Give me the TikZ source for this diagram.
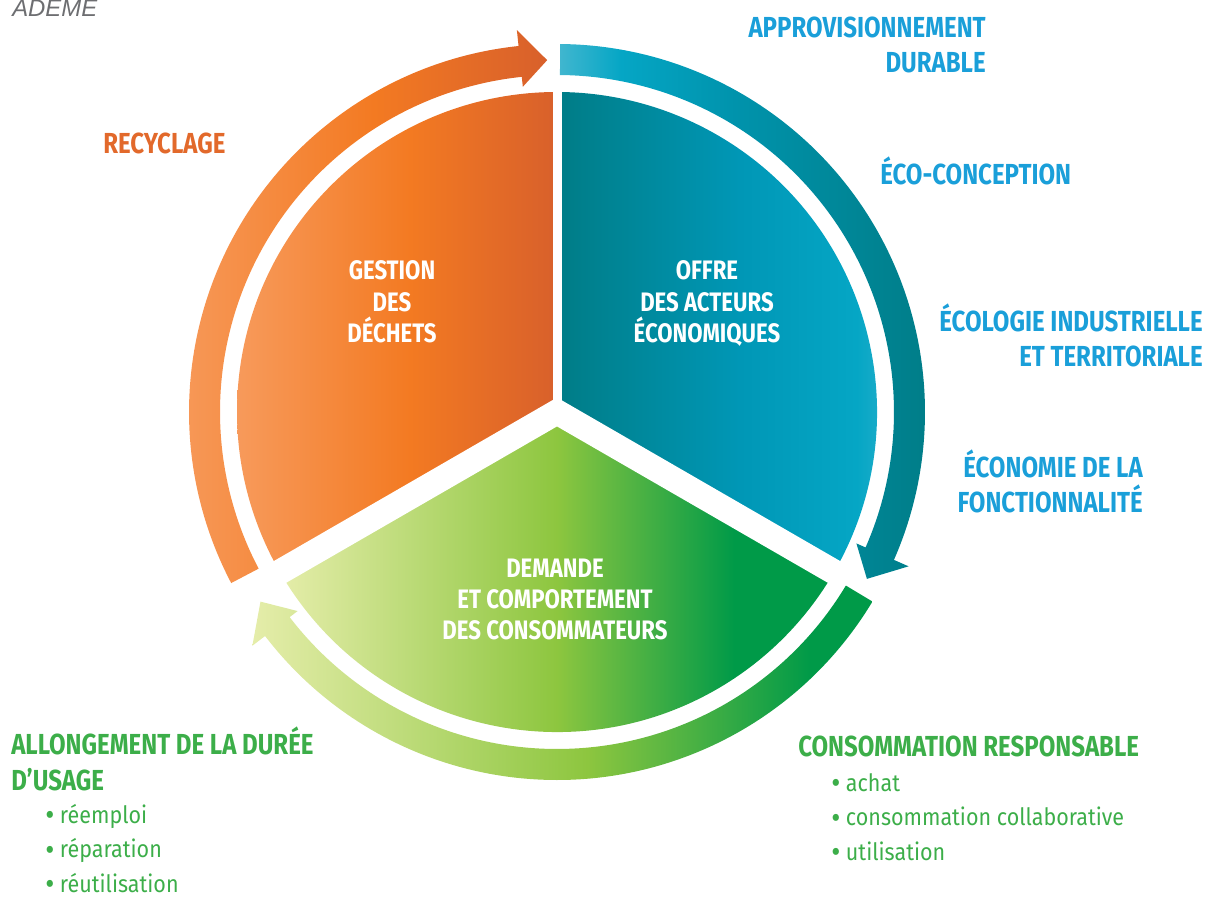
\documentclass[tikz,border=0pt]{standalone}
\usepackage{fontspec}
\setmainfont{Fira Sans}
\newfontfamily\condfont{Fira Sans}[FakeStretch=0.83]
\newfontfamily\listfont{Fira Sans}[FakeStretch=0.9]
\newfontfamily\logofont{Liberation Sans}
\usepackage{tikz}
\usetikzlibrary{calc}

\definecolor{orangeA}{HTML}{F79A5B}
\definecolor{orangeB}{HTML}{F37A22}
\definecolor{orangeC}{HTML}{D8602B}
\definecolor{tealA}{HTML}{007C86}
\definecolor{tealB}{HTML}{0097B6}
\definecolor{tealC}{HTML}{05A6C5}
\definecolor{tealD}{HTML}{40B6CF}
\definecolor{tealE}{HTML}{0093AC}
\definecolor{greenA}{HTML}{E5EDAA}
\definecolor{greenB}{HTML}{8DC63F}
\definecolor{greenC}{HTML}{009A48}
\definecolor{orangetext}{HTML}{E2692B}
\definecolor{bluetext}{HTML}{1A9FD9}
\definecolor{greentext}{HTML}{3CAE49}
\definecolor{logogray}{HTML}{6D6E71}

\pgfdeclarehorizontalshading{orangeshade}{100bp}{color(0bp)=(orangeA); color(25bp)=(orangeA); color(52bp)=(orangeB); color(75bp)=(orangeC); color(100bp)=(orangeC)}
\pgfdeclarehorizontalshading{offreshade}{100bp}{color(0bp)=(tealA); color(25bp)=(tealA); color(50bp)=(tealB); color(66bp)=(tealC); color(75bp)=(tealD); color(100bp)=(tealD)}
\pgfdeclarehorizontalshading{offrearcshade}{100bp}{color(0bp)=(tealD); color(25bp)=(tealD); color(33bp)=(tealC); color(48bp)=(tealE); color(75bp)=(tealA); color(100bp)=(tealA)}
\pgfdeclarehorizontalshading{demandeshade}{100bp}{color(0bp)=(greenA); color(25bp)=(greenA); color(50bp)=(greenB); color(66bp)=(greenC); color(75bp)=(greenC); color(100bp)=(greenC)}
\pgfdeclarehorizontalshading{demandearcshade}{100bp}{color(0bp)=(greenA); color(25bp)=(greenA); color(52bp)=(greenB); color(70bp)=(greenC); color(75bp)=(greenC); color(100bp)=(greenC)}

\newcommand\listdot{\raisebox{-1.8pt}[0pt][0pt]{\scalebox{1.3}{•}}\hspace{4pt}}

\tikzset{
  sector label/.style={text=white, font=\condfont\bfseries\fontsize{19}{22.4}\selectfont, align=center, inner sep=0pt},
  ring label/.style={font=\condfont\bfseries\fontsize{20.6}{24.9}\selectfont, inner sep=0pt},
  list label/.style={text=greentext, font=\listfont\fontsize{17}{24.5}\selectfont, align=left, inner sep=0pt, text depth=0pt}
}

\begin{document}
\begin{tikzpicture}[x=0.025cm, y=0.025cm]
  \useasboundingbox (0,0) rectangle (1205,-898);
  \coordinate (C) at (557,-412);

  % the three sectors
  \shade[shading=orangeshade] (C) -- ($(C)+(90:320)$) arc[start angle=90, end angle=210, radius=320] -- cycle;
  \shade[shading=offreshade] (C) -- ($(C)+(-30:320)$) arc[start angle=-30, end angle=90, radius=320] -- cycle;
  \shade[shading=demandeshade] (C) -- ($(C)+(210:320)$) arc[start angle=210, end angle=330, radius=320] -- cycle;
  \draw[white, line width=0.625cm, line join=miter] ($(C)+(210:325)$) -- (C) -- ($(C)+(330:325)$);
  \draw[white, line width=0.225cm] (C) -- ($(C)+(90:325)$);

  % ring arrows
  \shade[shading=orangeshade] ($(C)+(207.7:368)$) arc[start angle=207.7, end angle=96, radius=368]
    -- ($(C)+(96:384)$) -- ($(C)+(91.6:352)$) -- ($(C)+(96:327)$)
    -- ($(C)+(96:337)$) arc[start angle=96, end angle=207.7, radius=337] -- cycle;
  \shade[shading=offrearcshade] ($(C)+(89.5:368)$) arc[start angle=89.5, end angle=-23.7, radius=368]
    -- ($(C)+(-23.7:384)$) -- ($(C)+(-28.3:352)$) -- ($(C)+(-23.7:327)$)
    -- ($(C)+(-23.7:337)$) arc[start angle=-23.7, end angle=89.5, radius=337] -- cycle;
  \shade[shading=demandearcshade] ($(C)+(-31:368)$) arc[start angle=-31, end angle=-142.5, radius=368]
    -- ($(C)+(-142.5:384)$) -- ($(C)+(-147.4:352)$) -- ($(C)+(-142.5:327)$)
    -- ($(C)+(-142.5:337)$) arc[start angle=-142.5, end angle=-31, radius=337] -- cycle;

  % sector texts (base = last line)
  \node (gestion) [sector label, anchor=base] at (392,-343) {GESTION\\DES\\DÉCHETS};
  \node (offre) [sector label, anchor=base] at (707,-343) {OFFRE\\DES ACTEURS\\ÉCONOMIQUES};
  \node (demande) [sector label, anchor=base] at (555,-640) {DEMANDE\\ET COMPORTEMENT\\DES CONSOMMATEURS};

  % outer labels
  \node (logo) [anchor=base west, inner sep=0pt, text=logogray, font=\logofont\itshape\fontsize{17}{20}\selectfont] at (12,-17) {ADEME};
  \node (recyclage) [ring label, text=orangetext, anchor=base west] at (103,-154) {RECYCLAGE};
  \node (appro) [ring label, text=bluetext, align=right, anchor=base east] at (986,-73) {APPROVISIONNEMENT\\DURABLE};
  \node (ecoconception) [ring label, text=bluetext, anchor=base west] at (880,-185) {ÉCO-CONCEPTION};
  \node (ecologie) [ring label, text=bluetext, align=right, anchor=base east] at (1203,-367) {ÉCOLOGIE INDUSTRIELLE\\ET TERRITORIALE};
  \node (fonction) [ring label, text=bluetext, align=right, anchor=base east] at (1143,-513) {ÉCONOMIE DE LA\\FONCTIONNALITÉ};
  \node (allongement) [ring label, text=greentext, align=left, anchor=base west] at (11,-790) {ALLONGEMENT DE LA DURÉE\\D’USAGE};
  \node (allongement list) [list label, anchor=base west] at (45,-892) {\listdot réemploi\\\listdot réparation\\\listdot réutilisation};
  \node (responsable) [ring label, text=greentext, anchor=base west] at (798,-756) {CONSOMMATION RESPONSABLE};
  \node (responsable list) [list label, anchor=base west] at (831,-860) {\listdot achat\\\listdot consommation collaborative\\\listdot utilisation};
\end{tikzpicture}
\end{document}
